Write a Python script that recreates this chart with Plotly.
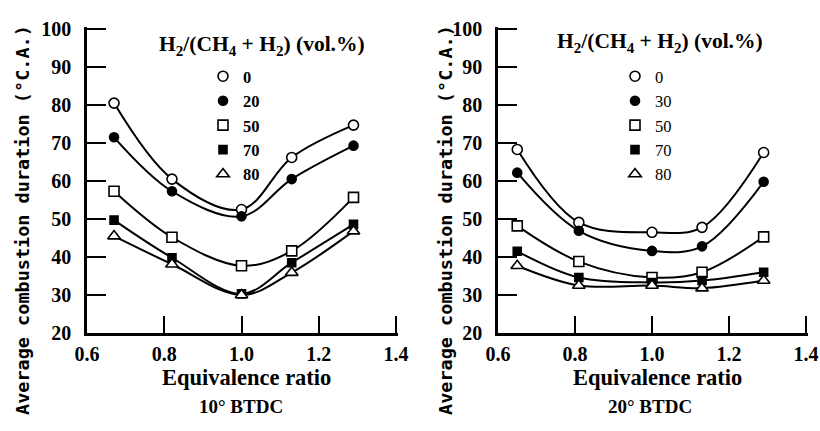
import plotly.graph_objects as go

# ---------------- data ----------------
phi_left = [0.67, 0.82, 1.0, 1.13, 1.29]
left_labels = ["0", "20", "50", "70", "80"]
left_h0 = [80.5, 60.5, 52.5, 66.2, 74.7]
left_h20 = [71.5, 57.3, 50.7, 60.5, 69.3]
left_h50 = [57.3, 45.2, 37.7, 41.6, 55.7]
left_h70 = [49.7, 39.8, 30.3, 38.5, 48.6]
left_h80 = [45.5, 38.1, 30.0, 35.9, 46.8]

phi_right = [0.65, 0.81, 1.0, 1.13, 1.29]
right_labels = ["0", "30", "50", "70", "80"]
right_h0 = [68.3, 49.1, 46.5, 47.8, 67.5]
right_h30 = [62.2, 46.9, 41.6, 42.8, 59.8]
right_h50 = [48.2, 38.8, 34.6, 36.0, 45.3]
right_h70 = [41.5, 34.6, 33.3, 33.8, 36.0]
right_h80 = [37.7, 32.5, 32.5, 31.8, 33.8]

x_ticks = [0.6, 0.8, 1.0, 1.2, 1.4]
y_ticks = [20, 30, 40, 50, 60, 70, 80, 90, 100]
panel_titles = ["10° BTDC", "20° BTDC"]
x_title = "Equivalence ratio"
y_title = "Average combustion duration (°C.A.)"
legend_title = "H<sub>2</sub>/(CH<sub>4</sub> + H<sub>2</sub>) (vol.%)"

# ---------------- style ----------------
W, H = 820, 431
SERIF = "Liberation Serif"
MONO = "DejaVu Sans Mono"
symbols = [
    dict(symbol="circle", color="white", size=10),
    dict(symbol="circle", color="black", size=9),
    dict(symbol="square", color="white", size=10),
    dict(symbol="square", color="black", size=8),
    dict(symbol="triangle-up", color="white", size=11),
]

def px(xp):
    return xp / W

def py(yp):
    return 1 - yp / H

# pixel boxes of the two panels; a 2px pad past the last tick keeps the
# end ticks (1.4 and 100) from being dropped at the axis ends
PAD = 2
panels = [
    dict(xa="x", ya="y", legend="legend", x0=87, x1=396, y0=29, y1=333),
    dict(xa="x2", ya="y2", legend="legend2", x0=498, x1=806, y0=29, y1=333),
]

fig = go.Figure()

def add_panel(phi, series, labels, p):
    xa, ya = p["xa"], p["ya"]
    for ys in series:
        fig.add_trace(go.Scatter(
            x=phi, y=ys, mode="lines", xaxis=xa, yaxis=ya,
            line=dict(color="black", width=2, shape="spline", smoothing=1.0),
            showlegend=False, hoverinfo="skip"))
    for ys, lab, sty in zip(series, labels, symbols):
        fig.add_trace(go.Scatter(
            x=phi, y=ys, mode="markers", xaxis=xa, yaxis=ya, name=lab,
            legend=p["legend"], cliponaxis=False,
            marker=dict(symbol=sty["symbol"], color=sty["color"], size=sty["size"],
                        line=dict(color="black", width=1.6))))

add_panel(phi_left, [left_h0, left_h20, left_h50, left_h70, left_h80],
          left_labels, panels[0])
add_panel(phi_right, [right_h0, right_h30, right_h50, right_h70, right_h80],
          right_labels, panels[1])

axis_common = dict(
    showline=True, linecolor="black", linewidth=2.5, mirror=False,
    ticks="inside", tickcolor="black", tickwidth=2,
    showgrid=False, zeroline=False, automargin=False,
    ticklabeloverflow="allow",
    tickfont=dict(family=SERIF, size=20, color="black", weight="bold"),
)

lay = dict(
    width=W, height=H,
    margin=dict(l=0, r=0, t=0, b=0, pad=0, autoexpand=False),
    paper_bgcolor="white", plot_bgcolor="white", showlegend=True,
)
for i, p in enumerate(panels):
    sfx = "" if i == 0 else "2"
    wpx = p["x1"] - p["x0"]
    hpx = p["y1"] - p["y0"]
    xr = [x_ticks[0], x_ticks[-1] + PAD * (x_ticks[-1] - x_ticks[0]) / wpx]
    yr = [y_ticks[0], y_ticks[-1] + PAD * (y_ticks[-1] - y_ticks[0]) / hpx]
    lay["xaxis" + sfx] = dict(domain=[px(p["x0"]), px(p["x1"] + PAD)], range=xr,
                              tickvals=x_ticks, ticktext=[f"{v:.1f}" for v in x_ticks],
                              ticklen=17, anchor=p["ya"], ticklabelstandoff=1,
                              **axis_common)
    lay["yaxis" + sfx] = dict(domain=[py(p["y1"]), py(p["y0"] - PAD)], range=yr,
                              tickvals=y_ticks, ticklen=19, anchor=p["xa"],
                              ticklabelstandoff=9, **axis_common)
lay["legend"] = dict(x=px(203), y=py(59), xanchor="left", yanchor="top",
                     bgcolor="rgba(0,0,0,0)",
                     font=dict(family=SERIF, size=16.5, color="black", weight="bold"))
lay["legend2"] = dict(x=px(615), y=py(59), xanchor="left", yanchor="top",
                      bgcolor="rgba(0,0,0,0)",
                      font=dict(family=SERIF, size=16.5, color="black"))
fig.update_layout(**lay)

ann = []
for cx, cx2, title in zip([246, 657], [241, 650], panel_titles):
    ann.append(dict(text=x_title, x=px(cx), y=py(377), xref="paper", yref="paper",
                    showarrow=False, xanchor="center", yanchor="middle",
                    font=dict(family=SERIF, size=22.5, color="black", weight="bold")))
    ann.append(dict(text=title, x=px(cx2), y=py(406), xref="paper", yref="paper",
                    showarrow=False, xanchor="center", yanchor="middle",
                    font=dict(family=SERIF, size=19, color="black", weight="bold")))
for lx in [22, 445]:
    ann.append(dict(text=y_title, x=px(lx), y=py(220), xref="paper", yref="paper",
                    showarrow=False, textangle=-90, xanchor="center", yanchor="middle",
                    font=dict(family=MONO, size=18.5, color="black", weight="bold")))
for cx, cy in [(262, 45), (660, 43)]:
    ann.append(dict(text=legend_title, x=px(cx), y=py(cy), xref="paper", yref="paper",
                    showarrow=False, xanchor="center", yanchor="middle",
                    font=dict(family=SERIF, size=21.5, color="black", weight="bold")))
fig.update_layout(annotations=ann)

fig.write_html("out.html", config={"displayModeBar": False},
               post_script="document.body.style.margin='0px';")
